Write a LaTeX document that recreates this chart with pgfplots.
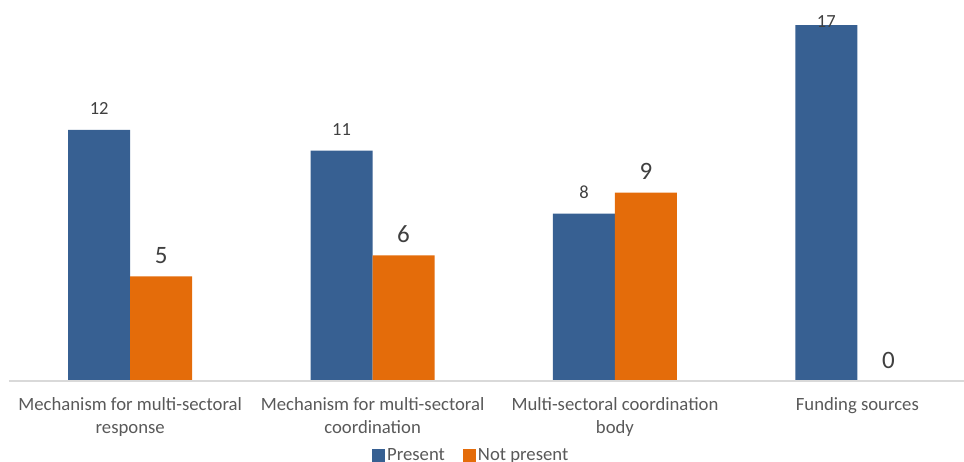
\documentclass[border=0pt]{standalone}
\usepackage{fontspec}
\setmainfont{Carlito}
\usepackage{pgfplots}
\pgfplotsset{compat=1.18}
\definecolor{presentblue}{HTML}{376092}
\definecolor{absentorange}{HTML}{E46C0A}
\definecolor{axisgray}{HTML}{D9D9D9}
\definecolor{labelgray}{HTML}{595959}
\definecolor{valuegray}{HTML}{404040}

\begin{document}
\begin{tikzpicture}[x=1pt,y=1pt]
\path[use as bounding box] (0,0) rectangle (964,462);
\begin{axis}[
  at={(9pt,81pt)}, anchor=south west,
  scale only axis, width=955pt, height=381pt,
  ybar=0pt, bar width=62pt,
  xmin=-0.5, xmax=3.44, ymin=0, ymax=18.2,
  axis x line*=bottom, axis y line=none, axis on top,
  x axis line style={draw=axisgray, line width=1.4pt, -},
  xtick={0,1,2,3}, xtick style={draw=none},
  xticklabels={{Mechanism for multi-sectoral\\response},
               {Mechanism for multi-sectoral\\coordination},
               {Multi-sectoral coordination\\body},
               {Funding sources}},
  xticklabel style={align=center, text=labelgray, font=\fontsize{18.7}{23}\selectfont, yshift=-9pt},
  /pgf/number format/assume math mode=true,
  visualization depends on=y \as \rawy,
  nodes near coords,
  every node near coord/.append style={anchor=center, text=valuegray,
    yshift={ifthenelse(\rawy>16,4,21)}},
  legend style={at={(0.484,-0.172)}, anchor=north, draw=none, fill=none,
    legend columns=2, font=\fontsize{18.7}{20}\selectfont, text=labelgray,
    /tikz/every even column/.append style={column sep=16pt},
    legend cell align=left, inner sep=0pt},
  legend image code/.code={\path[#1] (1pt,-6.5pt) rectangle (14pt,6.5pt);},
  clip=false,
]
\addplot+[fill=presentblue, draw=none,
  every node near coord/.append style={font=\fontsize{18.5}{18}\selectfont}]
  coordinates {(0,12) (1,11) (2,8) (3,17)};
\addplot+[fill=absentorange, draw=none,
  every node near coord/.append style={font=\fontsize{25}{25}\selectfont}]
  coordinates {(0,5) (1,6) (2,9) (3,0)};
\legend{Present, Not present}
\end{axis}
\end{tikzpicture}
\end{document}
